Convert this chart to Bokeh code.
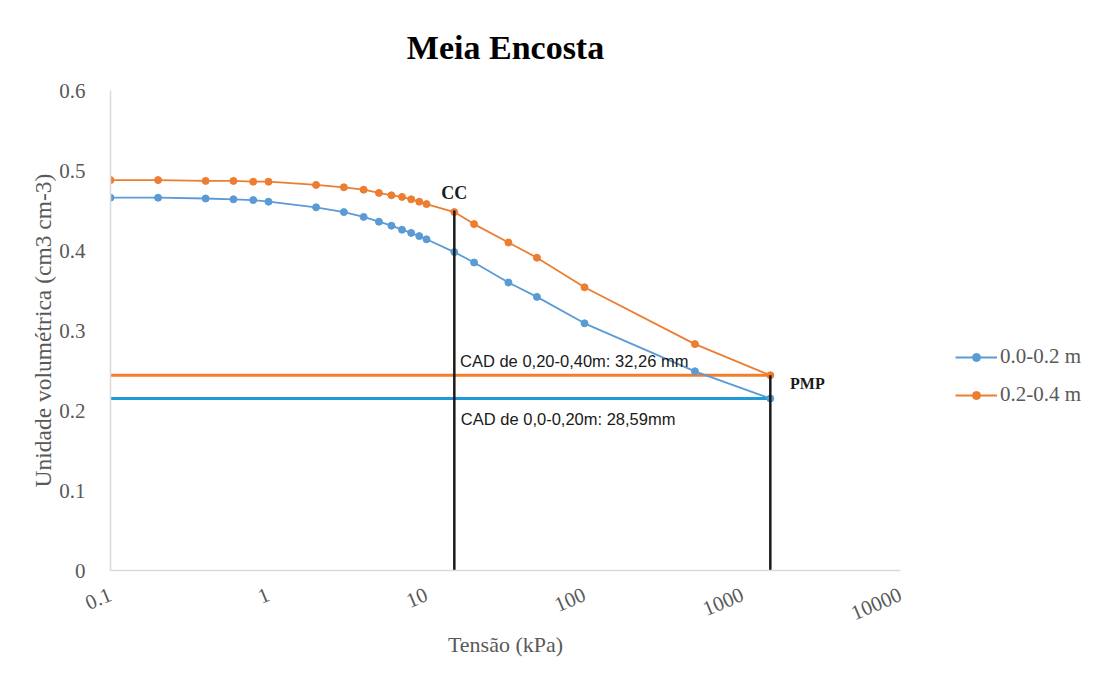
from bokeh.plotting import figure
from bokeh.models import FixedTicker, Legend, LegendItem
from bokeh.core.properties import value
from bokeh.embed import file_html
from bokeh.resources import INLINE

# ---- data ----
tensao = [0.1, 0.2, 0.4, 0.6, 0.8, 1, 2, 3, 4, 5, 6, 7, 8, 9, 10, 15, 20, 33, 50, 100, 500, 1500]
theta_00_02 = [0.466, 0.466, 0.465, 0.464, 0.463, 0.461, 0.454, 0.448, 0.442, 0.436, 0.431, 0.426,
               0.422, 0.418, 0.414, 0.398, 0.385, 0.360, 0.342, 0.309, 0.249, 0.215]
theta_02_04 = [0.488, 0.488, 0.487, 0.487, 0.486, 0.486, 0.482, 0.479, 0.476, 0.472, 0.469, 0.467,
               0.464, 0.461, 0.458, 0.448, 0.433, 0.410, 0.391, 0.354, 0.283, 0.244]
series_names = ["0.0-0.2 m", "0.2-0.4 m"]

cc_kpa = 15
pmp_kpa = 1500
cc_top = 0.45
pmp_top = 0.244
pmp_00_02 = 0.215
pmp_02_04 = 0.244

x_ticks = [0.1, 1, 10, 100, 1000, 10000]
x_tick_labels = ["0.1", "1", "10", "100", "1000", "10000"]
y_ticks = [0, 0.1, 0.2, 0.3, 0.4, 0.5, 0.6]
y_tick_labels = ["0", "0.1", "0.2", "0.3", "0.4", "0.5", "0.6"]

title_text = "Meia Encosta"
x_label = "Tensão (kPa)"
y_label = "Unidade volumétrica (cm3 cm-3)"
cad_02_04_text = "CAD de 0,20-0,40m: 32,26 mm"
cad_00_02_text = "CAD de 0,0-0,20m: 28,59mm"
cc_text = "CC"
pmp_text = "PMP"

# ---- styles ----
BLUE = "#5B9BD5"
ORANGE = "#ED7D31"
HBLUE = "#1F9AD8"
HORANGE = "#F07E2C"
SERIF = "Liberation Serif"
SANS = "Liberation Sans"
GREY = "#595959"

p = figure(frame_width=790, frame_height=480, x_axis_type="log", x_range=(0.1, 10000), y_range=(0, 0.6),
           output_backend="svg", toolbar_location=None,
           min_border_left=110, min_border_right=195, min_border_top=90, min_border_bottom=109)

p.title.text = title_text
p.title.align = "center"
p.title.text_font = SERIF
p.title.text_font_size = "34px"
p.title.text_font_style = "bold"
p.title.text_color = "#000000"
p.title.standoff = 49

p.outline_line_color = None
p.xgrid.grid_line_color = None
p.ygrid.grid_line_color = None

for ax in (p.xaxis[0], p.yaxis[0]):
    ax.axis_line_color = "#D9D9D9"
    ax.axis_line_width = 1.5
    ax.major_tick_line_color = None
    ax.minor_tick_line_color = None
    ax.major_label_text_font = SERIF
    ax.major_label_text_font_size = "21px"
    ax.major_label_text_color = GREY
    ax.axis_label_text_font = SERIF
    ax.axis_label_text_font_size = "22px"
    ax.axis_label_text_color = GREY
    ax.axis_label_text_font_style = "normal"

p.xaxis.ticker = FixedTicker(ticks=x_ticks)
p.xaxis.major_label_overrides = {t: l for t, l in zip(x_ticks, x_tick_labels)}
p.xaxis.major_label_orientation = 0.4
p.xaxis.major_label_standoff = 17
p.xaxis.axis_label = x_label
p.xaxis.axis_label_standoff = 2

p.yaxis.ticker = FixedTicker(ticks=y_ticks)
p.yaxis.major_label_overrides = {t: l for t, l in zip(y_ticks, y_tick_labels)}
p.yaxis.major_label_standoff = 19
p.yaxis.axis_label = y_label
p.yaxis.axis_label_standoff = 0
p.yaxis.axis_label_text_font_size = "23.5px"

# horizontal PMP lines
p.line([0.1, pmp_kpa], [pmp_02_04, pmp_02_04], line_color=HORANGE, line_width=3)
p.line([0.1, pmp_kpa], [pmp_00_02, pmp_00_02], line_color=HBLUE, line_width=3)

# series
r1l = p.line(tensao, theta_00_02, line_color=BLUE, line_width=1.8)
r1s = p.scatter(tensao, theta_00_02, size=7, fill_color=BLUE, line_color=BLUE)
r2l = p.line(tensao, theta_02_04, line_color=ORANGE, line_width=1.8)
r2s = p.scatter(tensao, theta_02_04, size=7, fill_color=ORANGE, line_color=ORANGE)

# vertical lines
p.line([cc_kpa, cc_kpa], [-0.01, cc_top], line_color="#1a1a1a", line_width=2.5)
p.line([pmp_kpa, pmp_kpa], [-0.01, pmp_top], line_color="#1a1a1a", line_width=2.5)

# texts
p.text(x=[cc_kpa], y=[0.459], text=[cc_text], text_align="center", text_baseline="bottom",
       text_font=value(SERIF), text_font_size="18px", text_font_style="bold", text_color="#1a1a1a")
p.text(x=[2000], y=[0.234], text=[pmp_text], text_align="left", text_baseline="middle",
       text_font=value(SERIF), text_font_size="16px", text_font_style="bold", text_color="#1a1a1a")
p.text(x=[16.3], y=[0.2625], text=[cad_02_04_text], text_align="left", text_baseline="middle",
       text_font=value(SANS), text_font_size="16.5px", text_color="#1a1a1a")
p.text(x=[16.5], y=[0.19], text=[cad_00_02_text], text_align="left", text_baseline="middle",
       text_font=value(SANS), text_font_size="16.5px", text_color="#1a1a1a")

legend = Legend(items=[LegendItem(label=series_names[0], renderers=[r1l, r1s]),
                       LegendItem(label=series_names[1], renderers=[r2l, r2s])],
                location=(55, 163), border_line_color=None, background_fill_alpha=0,
                padding=0, margin=0,
                glyph_width=42, glyph_height=20, label_height=20, spacing=13, label_standoff=3,
                label_text_font=SERIF, label_text_font_size="21px", label_text_color=GREY)
p.add_layout(legend, "right")

open("out.html", "w").write(file_html(p, INLINE))
